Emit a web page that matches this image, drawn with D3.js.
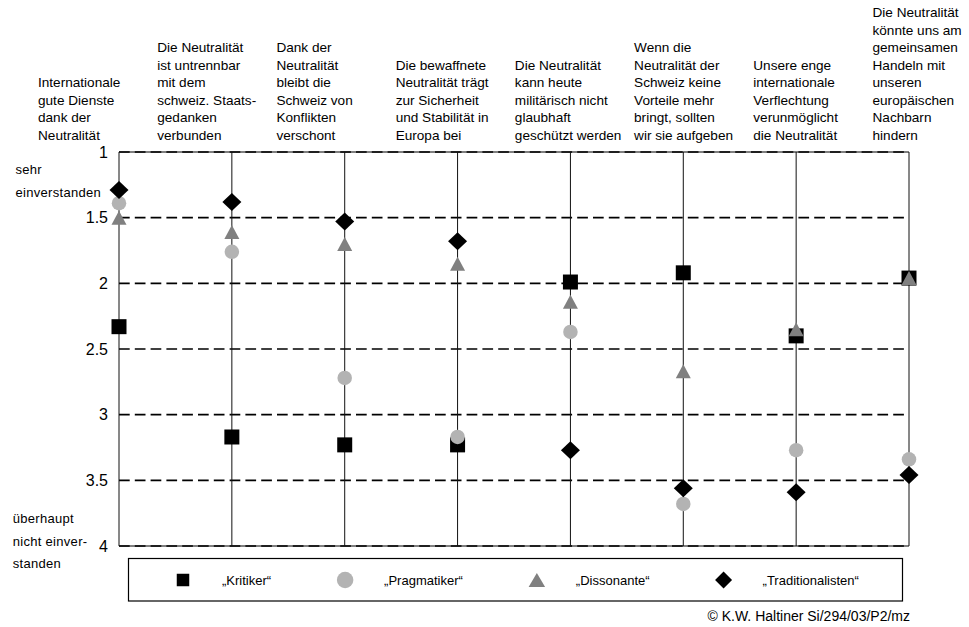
<!DOCTYPE html>
<html>
<head>
<meta charset="utf-8">
<script src="https://cdn.jsdelivr.net/npm/d3@7"></script>
<style>
  html, body { margin: 0; padding: 0; background: #fff; }
  svg { display: block; font-family: "Liberation Sans", Arial, sans-serif; }
</style>
</head>
<body>
<svg id="chart" width="969" height="627"></svg>
<script>
// ---------- DATA ----------
const categories = [
  "Internationale\ngute Dienste\ndank der\nNeutralität",
  "Die Neutralität\nist untrennbar\nmit dem\nschweiz. Staats-\ngedanken\nverbunden",
  "Dank der\nNeutralität\nbleibt die\nSchweiz von\nKonflikten\nverschont",
  "Die bewaffnete\nNeutralität trägt\nzur Sicherheit\nund Stabilität in\nEuropa bei",
  "Die Neutralität\nkann heute\nmilitärisch nicht\nglaubhaft\ngeschützt werden",
  "Wenn die\nNeutralität der\nSchweiz keine\nVorteile mehr\nbringt, sollten\nwir sie aufgeben",
  "Unsere enge\ninternationale\nVerflechtung\nverunmöglicht\ndie Neutralität",
  "Die Neutralität\nkönnte uns am\ngemeinsamen\nHandeln mit\nunseren\neuropäischen\nNachbarn\nhindern"
];
const seriesNames = ["„Kritiker“", "„Pragmatiker“", "„Dissonante“", "„Traditionalisten“"];
const kritiker         = [2.33, 3.17, 3.23, 3.23, 1.99, 1.92, 2.40, 1.96];
const pragmatiker      = [1.39, 1.76, 2.72, 3.17, 2.37, 3.68, 3.27, 3.34];
const dissonante       = [1.50, 1.61, 1.70, 1.85, 2.14, 2.67, 2.35, 1.96];
const traditionalisten = [1.29, 1.38, 1.53, 1.68, 3.27, 3.56, 3.59, 3.46];
const yTicks = [1, 1.5, 2, 2.5, 3, 3.5, 4];
const yTickLabels = ["1", "1.5", "2", "2.5", "3", "3.5", "4"];
const topAxisNote = ["sehr", "einverstanden"];
const bottomAxisNote = ["überhaupt", "nicht einver-", "standen"];
const copyright = "© K.W. Haltiner Si/294/03/P2/mz";

// ---------- LAYOUT ----------
const svg = d3.select("#chart");
const plot = { left: 119, right: 909, top: 152, bottom: 546 };

const x = d3.scalePoint().domain(d3.range(categories.length)).range([plot.left, plot.right]);
const labelX = d3.scalePoint().domain(d3.range(categories.length)).range([38, 872.5]);
const y = d3.scaleLinear().domain([1, 4]).range([plot.top, plot.bottom]);

// marker shapes
const shapes = {
  square: (w) => `M${-w/2},${-w/2}h${w}v${w}h${-w}Z`,
  circle: (w) => d3.arc()({ innerRadius: 0, outerRadius: w/2, startAngle: 0, endAngle: 2*Math.PI }),
  triangle: (w, h) => `M0,${-h/2}L${w/2},${h/2}L${-w/2},${h/2}Z`,
  diamond: (w, h) => `M0,${-h/2}L${w/2},0L0,${h/2}L${-w/2},0Z`
};
const series = [
  { name: seriesNames[0], values: kritiker,         color: "#000000", path: shapes.square(15),        legendPath: shapes.square(12.5) },
  { name: seriesNames[1], values: pragmatiker,      color: "#b3b3b3", path: shapes.circle(14.5),      legendPath: shapes.circle(16.5) },
  { name: seriesNames[2], values: dissonante,       color: "#808080", path: shapes.triangle(15, 14),  legendPath: shapes.triangle(16.5, 14) },
  { name: seriesNames[3], values: traditionalisten, color: "#000000", path: shapes.diamond(19, 18),   legendPath: shapes.diamond(17, 17) }
];

// ---------- GRID ----------
svg.append("g")
  .selectAll("line")
  .data([1, 4])
  .join("line")
  .attr("x1", plot.left).attr("x2", plot.right)
  .attr("y1", d => y(d)).attr("y2", d => y(d))
  .attr("stroke", "#000").attr("stroke-width", 1);

svg.append("g")
  .selectAll("line")
  .data(yTicks)
  .join("line")
  .attr("x1", plot.left).attr("x2", plot.right)
  .attr("y1", d => y(d)).attr("y2", d => y(d))
  .attr("stroke", "#000").attr("stroke-width", 1.7)
  .attr("stroke-dasharray", "10.7,5.1");

// vertical lines
svg.append("g")
  .selectAll("line")
  .data(d3.range(categories.length))
  .join("line")
  .attr("x1", d => x(d)).attr("x2", d => x(d))
  .attr("y1", y(1)).attr("y2", y(4))
  .attr("stroke", "#111").attr("stroke-width", 1);

// y tick labels
svg.append("g")
  .selectAll("text")
  .data(yTicks)
  .join("text")
  .attr("x", 108)
  .attr("y", d => y(d) + 5.5)
  .attr("text-anchor", "end")
  .attr("font-size", 16)
  .text((d, i) => yTickLabels[i]);

// axis notes
svg.append("g")
  .selectAll("text")
  .data(topAxisNote)
  .join("text")
  .attr("x", 15.5)
  .attr("y", (d, i) => 173.5 + i * 23)
  .attr("font-size", 13)
  .attr("letter-spacing", 0.3)
  .text(d => d);

svg.append("g")
  .selectAll("text")
  .data(bottomAxisNote)
  .join("text")
  .attr("x", 12.7)
  .attr("y", (d, i) => 523 + i * 22.5)
  .attr("font-size", 13)
  .attr("letter-spacing", 0.3)
  .text(d => d);

// category labels (bottom aligned)
const lineH = 17.5, lastBaseline = 139.5;
const catG = svg.append("g");
categories.forEach((c, i) => {
  const lines = c.split("\n");
  const t = catG.append("text")
    .attr("font-size", 13.6)
    .attr("x", labelX(i));
  lines.forEach((ln, j) => {
    t.append("tspan")
      .attr("x", labelX(i))
      .attr("y", lastBaseline - (lines.length - 1 - j) * lineH)
      .text(ln);
  });
});

// ---------- MARKERS ----------
series.forEach(s => {
  svg.append("g")
    .selectAll("path")
    .data(s.values)
    .join("path")
    .attr("transform", (d, i) => `translate(${x(i)},${y(d)})`)
    .attr("d", s.path)
    .attr("fill", s.color);
});

// ---------- LEGEND ----------
svg.append("rect")
  .attr("x", 128.5).attr("y", 558.5)
  .attr("width", 774).attr("height", 42.5)
  .attr("fill", "none").attr("stroke", "#000").attr("stroke-width", 1.2);

let lx = 183;
const legendY = 580;
series.forEach(s => {
  svg.append("path")
    .attr("transform", `translate(${lx},${legendY})`)
    .attr("d", s.legendPath)
    .attr("fill", s.color);
  const t = svg.append("text")
    .attr("x", lx + 39)
    .attr("y", legendY + 4.8)
    .attr("font-size", 13)
    .text(s.name);
  const w = t.node().getComputedTextLength();
  lx = lx + 39 + w + 74;
});

// copyright
svg.append("text")
  .attr("x", 910).attr("y", 621)
  .attr("text-anchor", "end")
  .attr("font-size", 14)
  .text(copyright);
</script>
</body>
</html>
